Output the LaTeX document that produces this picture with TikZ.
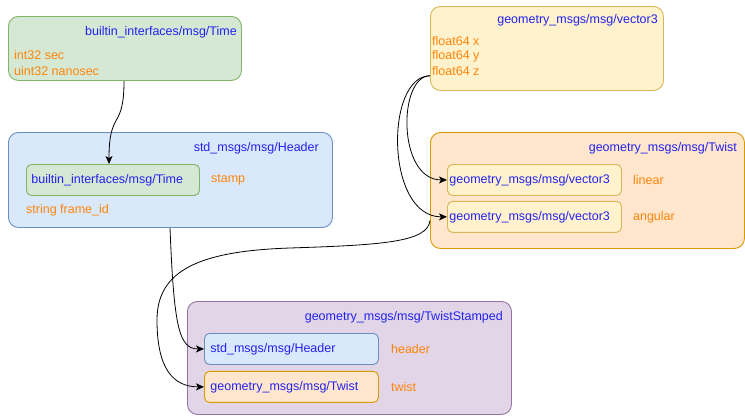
\documentclass[tikz,border=0pt]{standalone}
\usepackage{fontspec}
\setmainfont{Liberation Sans}
\usepackage{tikz}
\usetikzlibrary{arrows.meta, positioning}
\definecolor{rosTime}{HTML}{D5E8D4}
\definecolor{rosTimeLine}{HTML}{82B366}
\definecolor{rosHeader}{HTML}{DAE8FC}
\definecolor{rosHeaderLine}{HTML}{6C8EBF}
\definecolor{rosVector}{HTML}{FFF2CC}
\definecolor{rosVectorLine}{HTML}{D6B656}
\definecolor{rosTwist}{HTML}{FFE6CC}
\definecolor{rosTwistLine}{HTML}{D79B00}
\definecolor{rosStamped}{HTML}{E1D5E7}
\definecolor{rosStampedLine}{HTML}{9673A6}
\definecolor{rosType}{RGB}{34,34,240}
\definecolor{rosField}{RGB}{255,133,10}

\begin{document}
\begin{tikzpicture}[
    x=1pt, y=-1pt,
    msg/.style={rounded corners=10pt, line width=0.9pt, anchor=north west, inner sep=0pt},
    member/.style={rounded corners=5pt, line width=0.9pt, anchor=north west, minimum height=31pt,
      align=left, font=\fontsize{12.5}{15}\selectfont, text=rosType},
    title/.style={anchor=east, inner sep=0pt, font=\fontsize{12.5}{15}\selectfont, text=rosType},
    field/.style={anchor=west, inner sep=0pt, font=\fontsize{12.5}{15}\selectfont, text=rosField},
    arr/.style={-{Stealth[length=8pt,width=7pt,inset=2pt]}, line width=0.8pt, draw=black}
  ]
    \useasboundingbox (0,0) rectangle (745,416);

    % builtin_interfaces/msg/Time
    \node[msg, fill=rosTime, draw=rosTimeLine, minimum width=233pt, minimum height=64pt] (time) at (8,16) {};
    \node[title] (timeName) at (237,32) {builtin\_interfaces/msg/Time};
    \node[field] (timeSec) at (14,55) {int32 sec};
    \node[field] (timeNsec) at (14,71) {uint32 nanosec};

    % geometry_msgs/msg/vector3
    \node[msg, fill=rosVector, draw=rosVectorLine, minimum width=233pt, minimum height=84pt] (vec) at (430,6) {};
    \node[title] (vecName) at (658,20) {geometry\_msgs/msg/vector3};
    \node[field] (vecX) at (432,41) {float64 x};
    \node[field] (vecY) at (432,56) {float64 y};
    \node[field] (vecZ) at (432,71) {float64 z};

    % std_msgs/msg/Header
    \node[msg, fill=rosHeader, draw=rosHeaderLine, minimum width=324pt, minimum height=95pt] (header) at (8,132) {};
    \node[title] (headerName) at (319,148) {std\_msgs/msg/Header};
    \node[member, fill=rosTime, draw=rosTimeLine, text width=163pt, inner xsep=5pt] (hStamp) at (26,164) {builtin\_interfaces/msg/Time};
    \node[field, right=11pt of hStamp] (hStampName) {stamp};
    \node[field] (hFrame) at (26,210) {string frame\_id};

    % geometry_msgs/msg/Twist
    \node[msg, fill=rosTwist, draw=rosTwistLine, minimum width=314pt, minimum height=116pt] (twist) at (430,132) {};
    \node[title] (twistName) at (737,148) {geometry\_msgs/msg/Twist};
    \node[member, fill=rosVector, draw=rosVectorLine, text width=170pt, inner xsep=2pt] (tLinear) at (447,164) {geometry\_msgs/msg/vector3};
    \node[member, fill=rosVector, draw=rosVectorLine, text width=170pt, inner xsep=2pt, below=5pt of tLinear] (tAngular) {geometry\_msgs/msg/vector3};
    \node[field, right=11pt of tLinear] (tLinearName) {linear};
    \node[field, right=11pt of tAngular] (tAngularName) {angular};

    % geometry_msgs/msg/TwistStamped
    \node[msg, fill=rosStamped, draw=rosStampedLine, minimum width=324pt, minimum height=113pt] (stamped) at (187,301) {};
    \node[title] (stampedName) at (503,317) {geometry\_msgs/msg/TwistStamped};
    \node[member, fill=rosHeader, draw=rosHeaderLine, text width=162pt, inner xsep=6pt] (sHeader) at (204,333) {std\_msgs/msg/Header};
    \node[member, fill=rosTwist, draw=rosTwistLine, text width=162pt, inner xsep=6pt, below=6pt of sHeader] (sTwist) {geometry\_msgs/msg/Twist};
    \node[field, right=12pt of sHeader] (sHeaderName) {header};
    \node[field, right=12pt of sTwist] (sTwistName) {twist};

    % type references
    \draw[arr] ([xshift=116pt]time.south west) .. controls +(0,50) and +(0,-55) .. ([xshift=83pt]hStamp.north west);
    \draw[arr] ([xshift=-2pt]vecZ.south west) .. controls +(-32,0) and +(-50,0) .. (tLinear.west);
    \draw[arr] ([xshift=-2pt]vecZ.south west) .. controls +(-45,0) and +(-62,0) .. (tAngular.west);
    \draw[arr] ([xshift=162pt]header.south west) .. controls +(4,100) and +(-25,0) .. (sHeader.west);
    \draw[arr] ([yshift=-30pt]twist.west) .. controls +(-2,22) and +(90,-3) .. (290,248)
      .. controls +(-90,3) and +(0,-50) .. (157,320)
      .. controls +(0,50) and +(-30,0) .. (sTwist.west);
  \end{tikzpicture}
\end{document}
